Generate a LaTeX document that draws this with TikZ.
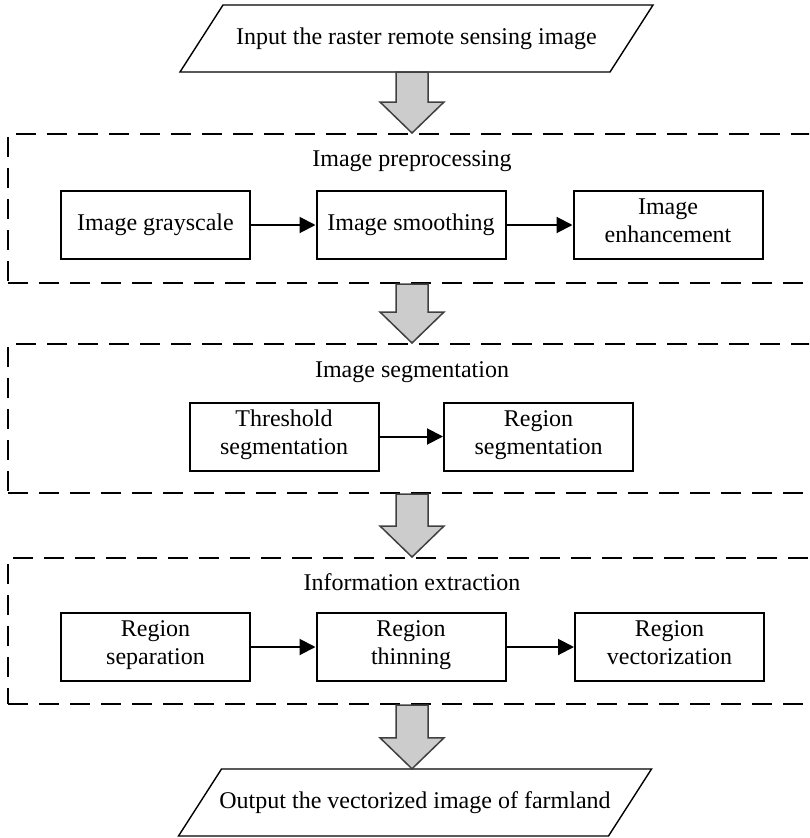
\documentclass[tikz,border=0pt]{standalone}
\usepackage{fontspec}
\setmainfont{Liberation Serif}
\usetikzlibrary{arrows.meta,calc}
\newcommand\blockarrow[2]{%
  \draw[blk] let \p1=(#1), \p2=(#2) in
    (\x1-16pt,\y1) -- (\x1+16pt,\y1) -- (\x1+16pt,\y2+31pt) -- (\x1+32pt,\y2+31pt)
    -- (\x1,\y2) -- (\x1-32pt,\y2+31pt) -- (\x1-16pt,\y2+31pt) -- cycle;}
\newcommand\parabox[1]{%
  \draw[ioline] ($(#1)+(-236.5,33.5)$) -- ($(#1)+(-193.5,-33.5)$) -- ($(#1)+(236.5,-33.5)$)
    -- ($(#1)+(193.5,33.5)$) -- cycle;}
\begin{document}
\begin{tikzpicture}[x=1pt,y=-1pt,
  every node/.style={font=\fontsize{24}{28}\selectfont},
  stepbox/.style={draw, line width=2pt, minimum width=189pt, minimum height=68pt, align=center, inner sep=2pt},
  iotext/.style={minimum width=387pt, minimum height=67pt, inner sep=0pt},
  ioline/.style={line width=1.4pt, line join=miter},
  groupbox/.style={draw, dash pattern=on 20pt off 11pt, line width=2pt, anchor=north west,
    minimum width=823pt, inner sep=0pt, rectangle},
  flow/.style={-{Triangle[length=16pt,width=16pt]}, line width=2pt},
  blk/.style={draw=black!75, fill=black!20, line width=1.5pt, line join=miter}
]
\useasboundingbox (0,0) rectangle (809,838);
\clip (0,0) rectangle (809,838);
\coordinate (cx) at (412,0);

% groups
\node[groupbox, minimum height=149pt] (g1) at (7,133) {};
\node[groupbox, minimum height=149pt] (g2) at (7,343) {};
\node[groupbox, minimum height=146pt] (g3) at (7,557) {};

% input / output
\node[iotext] (in) at (416.5,38.5) {Input the raster remote sensing image};
\parabox{in}
\node[iotext] (out) at (415,802.5) {Output the vectorized image of farmland};
\parabox{out}

% titles
\node (t1) at (412,161) {Image preprocessing};
\node (t2) at (412,372) {Image segmentation};
\node (t3) at (412,582) {Information extraction};

% row 1
\node[stepbox] (a1) at (155.5,225) {Image grayscale};
\node[stepbox] (a2) at (411,225) {Image smoothing};
\node[stepbox] (a3) at (668,225) {Image\\enhancement\strut};
% row 2
\node[stepbox] (b1) at (284,436.5) {Threshold\\segmentation\strut};
\node[stepbox] (b2) at (538.5,436.5) {Region\\segmentation\strut};
% row 3
\node[stepbox] (c1) at (155.5,647) {Region\\separation\strut};
\node[stepbox] (c2) at (411,647) {Region\\thinning\strut};
\node[stepbox] (c3) at (669.5,647) {Region\\vectorization\strut};

\draw[flow] (a1) -- (a2);
\draw[flow] (a2) -- (a3);
\draw[flow] (b1) -- (b2);
\draw[flow] (c1) -- (c2);
\draw[flow] (c2) -- (c3);

% block arrows
\blockarrow{in.south -| cx}{g1.north -| cx}
\blockarrow{g1.south -| cx}{g2.north -| cx}
\blockarrow{g2.south -| cx}{g3.north -| cx}
\blockarrow{g3.south -| cx}{out.north -| cx}
\end{tikzpicture}
\end{document}
